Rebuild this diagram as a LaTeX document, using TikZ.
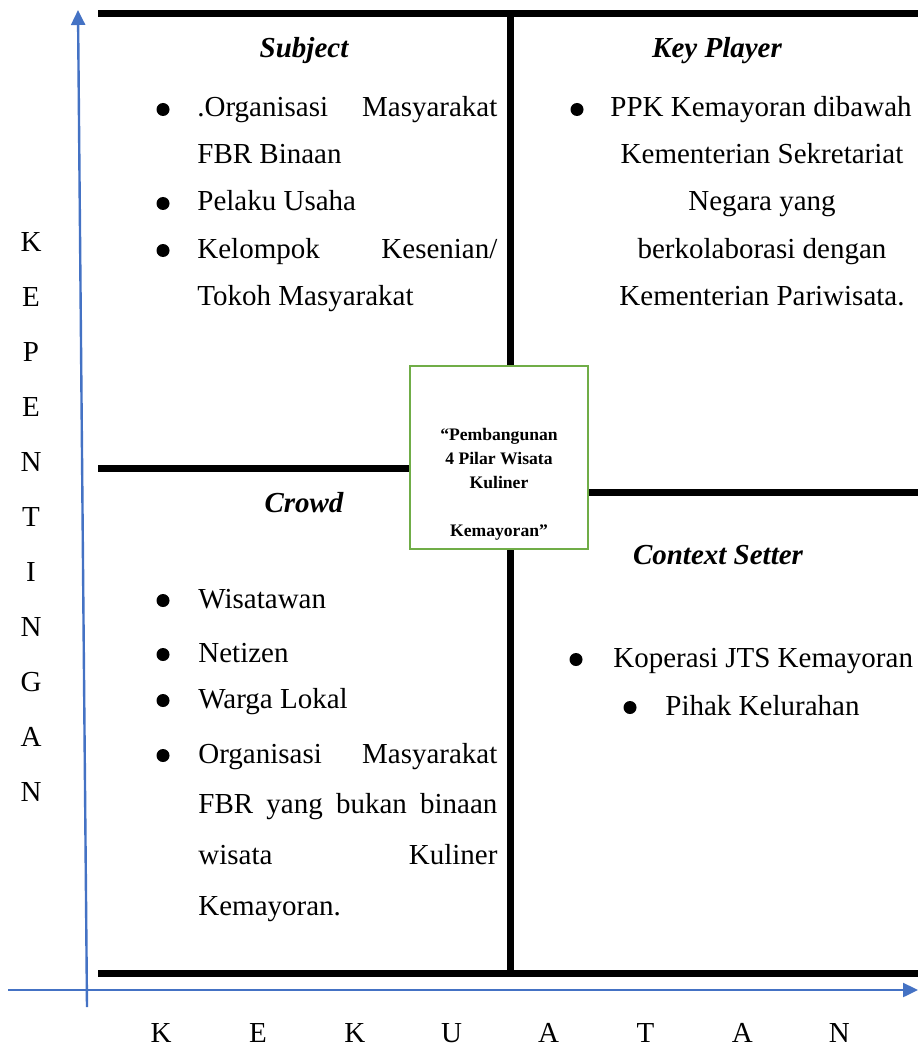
\documentclass[tikz,border=0pt]{standalone}
\usepackage{fontspec}
\setmainfont{Liberation Serif}
\usetikzlibrary{arrows.meta}

\definecolor{axisblue}{HTML}{4472C4}
\definecolor{hubgreen}{HTML}{70AD47}

\newcommand{\quadfont}{\fontsize{14.5}{17}\selectfont}

\tikzset{
  grid line/.style={line width=3.5pt},
  axis line/.style={draw=axisblue, line width=1.2pt, -{Triangle[length=7.5pt, width=7pt]}},
  title/.style={anchor=base, inner sep=0pt, font=\quadfont\bfseries\itshape},
  item/.style={anchor=base west, inner sep=0pt},
  line/.style={anchor=base, inner sep=0pt},
  dot/.style={circle, fill=black, inner sep=0pt, minimum size=6.5pt},
}

\begin{document}
\begin{tikzpicture}[x=0.5pt, y=-0.5pt, every node/.style={font=\quadfont}]
			\useasboundingbox (0,0) rectangle (918,1048);

			% Axes
			\coordinate (yfoot) at (87,1007);
			\coordinate (ytip) at (78,10);
			\coordinate (xfoot) at (8,990);
			\coordinate (xtip) at (918,990);
			\draw[axis line] (yfoot) -- (ytip);
			\draw[axis line] (xfoot) -- (xtip);

			% Quadrant lines
			\draw[grid line] (98,14) -- (918,14);
			\draw[grid line] (98,973) -- (918,973);
			\draw[grid line] (510,14) -- (510,973);
			\draw[grid line] (98,468) -- (410,468);
			\draw[grid line] (588,492) -- (918,492);

			% Centre box
			\node[draw=hubgreen, line width=1pt, fill=white, minimum width=89pt, minimum height=91.5pt, inner sep=0pt] (hub) at (499,457.5) {};
			\node[anchor=north, inner sep=0pt, align=center, font=\bfseries\fontsize{8.8}{12}\selectfont] (hubtext) at (499,428)
				{“Pembangunan\\4 Pilar Wisata\\Kuliner\\[12pt]Kemayoran”};

			% Axis labels
			\foreach \ch [count=\i from 0] in {K,E,P,E,N,T,I,N,G,A,N}
				\node (kep\i) at (31,{242+55*\i}) {\ch};
			\foreach \ch [count=\i from 0] in {K,E,K,U,A,T,A,N}
				\node (kek\i) at ({161+96.9*\i},1033) {\ch};

			% Subject
			\node[title] (subj) at (304,58) {Subject};
			\node[dot] (subjb1) at (163,109.5) {};
			\node[item] (subj1) at (197,117) {\makebox[150pt][s]{.Organisasi Masyarakat}};
			\node[item] (subj2) at (197,164) {FBR Binaan};
			\node[dot] (subjb2) at (163,203.5) {};
			\node[item] (subj3) at (197,211) {Pelaku Usaha};
			\node[dot] (subjb3) at (163,250.5) {};
			\node[item] (subj4) at (197,258) {\makebox[150pt][s]{Kelompok Kesenian/}};
			\node[item] (subj5) at (197,305) {Tokoh Masyarakat};

			% Key Player
			\node[title] (keyp) at (717,58) {Key Player};
			\node[dot] (keypb1) at (577,109.5) {};
			\node[item] (keyp1) at (610,117) {PPK Kemayoran dibawah};
			\node[line] (keyp2) at (762,164) {Kementerian Sekretariat};
			\node[line] (keyp3) at (762,211) {Negara yang};
			\node[line] (keyp4) at (762,258) {berkolaborasi dengan};
			\node[line] (keyp5) at (762,305) {Kementerian Pariwisata.};

			% Crowd
			\node[title] (crowd) at (304,512) {Crowd};
			\node[dot] (crowdb1) at (163,600.5) {};
			\node[item] (crowd1) at (198,608) {Wisatawan};
			\node[dot] (crowdb2) at (163,654.5) {};
			\node[item] (crowd2) at (198,662) {Netizen};
			\node[dot] (crowdb3) at (163,700.5) {};
			\node[item] (crowd3) at (198,708) {Warga Lokal};
			\node[dot] (crowdb4) at (163,755.5) {};
			\node[item] (crowd4) at (198,763) {\makebox[149.5pt][s]{Organisasi Masyarakat}};
			\node[item] (crowd5) at (198,813) {\makebox[149.5pt][s]{FBR yang bukan binaan}};
			\node[item] (crowd6) at (198,864) {\makebox[149.5pt][s]{wisata Kuliner}};
			\node[item] (crowd7) at (198,915) {Kemayoran.};

			% Context Setter
			\node[title] (ctx) at (718,564) {Context Setter};
			\node[dot] (ctxb1) at (576,659.5) {};
			\node[item] (ctx1) at (613,667) {Koperasi JTS Kemayoran};
			\node[dot] (ctxb2) at (630,707.5) {};
			\node[item] (ctx2) at (665,715) {Pihak Kelurahan};
		\end{tikzpicture}
\end{document}
